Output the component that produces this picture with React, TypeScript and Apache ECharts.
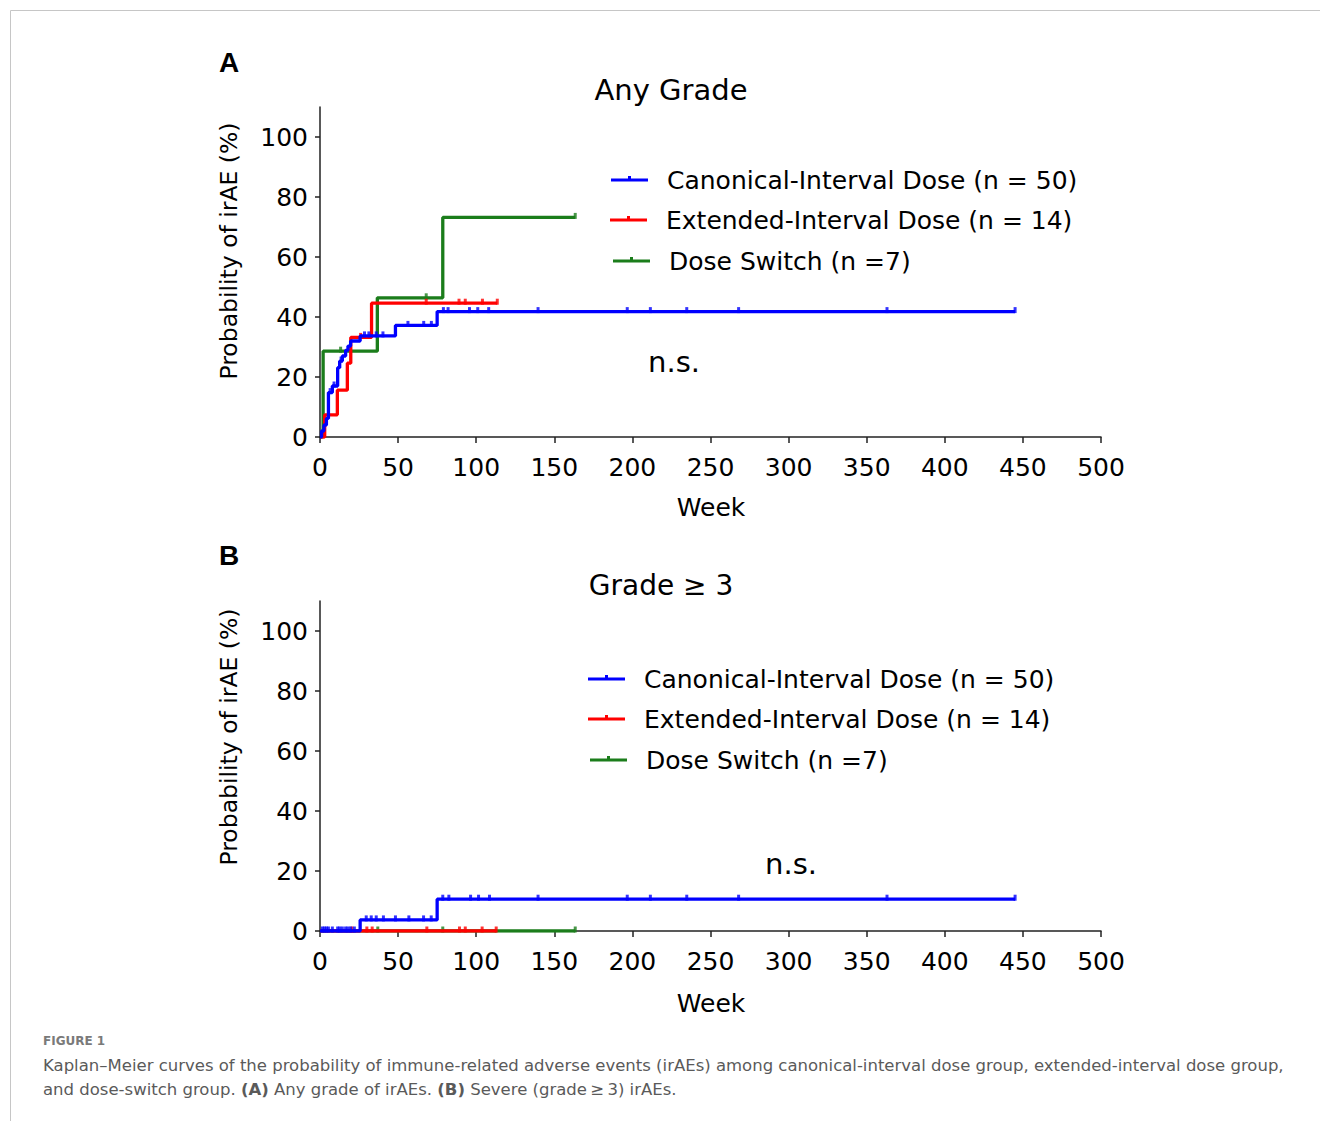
import React, { useEffect, useRef } from "react";
import * as echarts from "echarts";

// ---------- data (weeks, cumulative probability %) ----------
const xTicks = [0, 50, 100, 150, 200, 250, 300, 350, 400, 450, 500];
const yTicks = [0, 20, 40, 60, 80, 100];

// Panel A: any grade
const blueA_t = [0, 1.0, 2.5, 4.1, 5.4, 7.9, 11.3, 12.6, 14.3, 16.4, 17.9, 19.6, 25.7, 48.3, 75, 445];
const blueA_v = [0, 2, 4, 6.2, 14.8, 17, 23.1, 25.3, 27, 28.9, 30.3, 32, 33.7, 37.2, 41.8, 41.8];
const blueA_cens_t = [6.5, 9, 13.5, 28.5, 31.3, 36, 40.3, 56.3, 66.4, 71.3, 79, 82, 95.7, 101, 108, 139.6, 196.7, 211.5, 234.8, 268, 363, 445];
const blueA_cens_v = [14.8, 17, 25.3, 33.7, 33.7, 33.7, 33.7, 37.2, 37.2, 37.2, 41.8, 41.8, 41.8, 41.8, 41.8, 41.8, 41.8, 41.8, 41.8, 41.8, 41.8, 41.8];

const redA_t = [0, 3, 11.1, 17.5, 19.7, 33, 113.5];
const redA_v = [0, 7.4, 15.6, 24.6, 33.2, 44.6, 44.6];
const redA_cens_t = [26, 68, 89, 93, 104, 113.5];
const redA_cens_v = [33.2, 44.6, 44.6, 44.6, 44.6, 44.6];

const greenA_t = [0, 2, 36.7, 78.6, 163.4];
const greenA_v = [0, 28.6, 46.4, 73.2, 73.2];
const greenA_cens_t = [13.2, 68, 163.4];
const greenA_cens_v = [28.6, 46.4, 73.2];

// Panel B: grade >= 3
const blueB_t = [0, 25.7, 75, 445];
const blueB_v = [0, 3.7, 10.6, 10.6];
const blueB_cens_t = [1.5, 2.8, 4.1, 5.4, 7.9, 11.3, 12.6, 14.3, 16.4, 17.9, 19.6, 22, 29.6, 32.8, 36, 40.6, 48.3, 56.9, 66.3, 71.2, 78.6, 82.5, 96.4, 101.5, 108.5, 139.6, 196.7, 211.5, 234.8, 268, 363, 445];
const blueB_cens_v = [0, 0, 0, 0, 0, 0, 0, 0, 0, 0, 0, 0, 3.7, 3.7, 3.7, 3.7, 3.7, 3.7, 3.7, 3.7, 10.6, 10.6, 10.6, 10.6, 10.6, 10.6, 10.6, 10.6, 10.6, 10.6, 10.6, 10.6];

const redB_t = [0, 113];
const redB_v = [0, 0];
const redB_cens_t = [20.4, 30, 33.4, 68.4, 89.3, 93, 103.8, 112.8];
const redB_cens_v = [0, 0, 0, 0, 0, 0, 0, 0];

const greenB_t = [0, 163.4];
const greenB_v = [0, 0];
const greenB_cens_t = [37, 78.6, 163.4];
const greenB_cens_v = [0, 0, 0];

const legendNames = ["Canonical-Interval Dose (n = 50)", "Extended-Interval Dose (n = 14)", "Dose Switch (n =7)"];

const BLUE = "#0000ff";
const RED = "#ff0000";
const GREEN = "#1b7d1b";
const FONT = "DejaVu Sans";

const zip = (t: number[], v: number[]) => t.map((x, i) => [x, v[i]]);

function lineSeries(name: string, t: number[], v: number[], color: string, idx: number, z: number) {
  return {
    type: "line",
    name,
    data: zip(t, v),
    xAxisIndex: idx,
    yAxisIndex: idx,
    step: "end",
    showSymbol: false,
    symbol: "none",
    silent: true,
    z,
    lineStyle: { color, width: 3.3 },
    itemStyle: { color },
  };
}

function censSeries(name: string, t: number[], v: number[], color: string, idx: number, z: number) {
  return {
    type: "scatter",
    name: name + " censored",
    data: zip(t, v),
    xAxisIndex: idx,
    yAxisIndex: idx,
    symbol: "rect",
    symbolSize: [3, 6],
    symbolOffset: [0, -1.5],
    silent: true,
    z,
    itemStyle: { color },
  };
}

function xAxisDef(idx: number) {
  return {
    type: "value",
    gridIndex: idx,
    min: 0,
    max: 500,
    interval: 50,
    axisLine: { show: true, lineStyle: { color: "#222", width: 1.5 } },
    axisTick: { show: true, length: 6, customValues: xTicks, lineStyle: { color: "#222", width: 1.5 } },
    axisLabel: { fontSize: 25, color: "#000", fontFamily: FONT, margin: 18, customValues: xTicks },
    splitLine: { show: false },
  };
}

function yAxisDef(idx: number) {
  return {
    type: "value",
    gridIndex: idx,
    min: 0,
    max: 110,
    interval: 20,
    axisLine: { show: true, lineStyle: { color: "#222", width: 1.5 } },
    axisTick: { show: true, length: 5, customValues: yTicks, lineStyle: { color: "#222", width: 1.5 } },
    axisLabel: { fontSize: 25, color: "#000", fontFamily: FONT, margin: 12, customValues: yTicks },
    splitLine: { show: false },
  };
}

function legendGraphics(x0: number, rows: { y: number; dx: number }[]) {
  const colors = [BLUE, RED, GREEN];
  const out: any[] = [];
  rows.forEach((r, i) => {
    const x = x0 + r.dx;
    out.push({
      type: "line",
      shape: { x1: x, y1: r.y, x2: x + 37, y2: r.y },
      style: { stroke: colors[i], lineWidth: 3 },
      silent: true,
    });
    out.push({
      type: "rect",
      shape: { x: x + 17, y: r.y - 4, width: 3, height: 4 },
      style: { fill: colors[i] },
      silent: true,
    });
    out.push({
      type: "text",
      x: x + 56,
      y: r.y,
      style: { text: legendNames[i], fontSize: 25, fontFamily: FONT, fill: "#000", verticalAlign: "middle" },
      silent: true,
    });
  });
  return out;
}

function txt(text: string, x: number, y: number, size: number, opts: any = {}) {
  return {
    type: "text",
    x,
    y,
    rotation: opts.rotation || 0,
    silent: true,
    style: {
      text,
      fontSize: size,
      fontFamily: opts.font || FONT,
      fontWeight: opts.weight || "normal",
      fill: opts.fill || "#000",
      align: opts.align || "center",
      verticalAlign: "middle",
    },
  };
}

export default function App() {
  const ref = useRef<HTMLDivElement>(null);
  useEffect(() => {
    if (!ref.current) return;
    const chart = echarts.init(ref.current, undefined, { renderer: "svg" });
    const caption1 =
      "Kaplan\u2013Meier curves of the probability of immune-related adverse events (irAEs) among canonical-interval dose group, extended-interval dose group,";
    chart.setOption({
      animation: false,
      backgroundColor: "#fff",
      grid: [
        { left: 320, top: 107, width: 781, height: 330 },
        { left: 320, top: 601, width: 781, height: 330 },
      ],
      xAxis: [xAxisDef(0), xAxisDef(1)],
      yAxis: [yAxisDef(0), yAxisDef(1)],
      series: [
        lineSeries("Dose Switch A", greenA_t, greenA_v, GREEN, 0, 2),
        censSeries("Dose Switch A", greenA_cens_t, greenA_cens_v, GREEN, 0, 3),
        lineSeries("Extended A", redA_t, redA_v, RED, 0, 4),
        censSeries("Extended A", redA_cens_t, redA_cens_v, RED, 0, 5),
        lineSeries("Canonical A", blueA_t, blueA_v, BLUE, 0, 6),
        censSeries("Canonical A", blueA_cens_t, blueA_cens_v, BLUE, 0, 7),
        lineSeries("Dose Switch B", greenB_t, greenB_v, GREEN, 1, 2),
        censSeries("Dose Switch B", greenB_cens_t, greenB_cens_v, GREEN, 1, 3),
        lineSeries("Extended B", redB_t, redB_v, RED, 1, 4),
        censSeries("Extended B", redB_cens_t, redB_cens_v, RED, 1, 5),
        lineSeries("Canonical B", blueB_t, blueB_v, BLUE, 1, 6),
        censSeries("Canonical B", blueB_cens_t, blueB_cens_v, BLUE, 1, 7),
      ],
      graphic: [
        {
          type: "rect",
          shape: { x: 10.5, y: 10.5, width: 1320, height: 1120 },
          style: { fill: "none", stroke: "#c6c6c6", lineWidth: 1 },
          silent: true,
        },
        txt("A", 229, 62, 28, { weight: "bold", font: "Liberation Sans" }),
        txt("B", 229, 555, 28, { weight: "bold", font: "Liberation Sans" }),
        txt("Any Grade", 671, 90, 29),
        txt("Grade \u2265 3", 661, 585, 28),
        txt("Probability of irAE (%)", 229, 251, 23.5, { rotation: Math.PI / 2 }),
        txt("Probability of irAE (%)", 229, 737, 23.5, { rotation: Math.PI / 2 }),
        txt("Week", 711, 507, 25),
        txt("Week", 711, 1003, 25),
        txt("n.s.", 674, 362, 29),
        txt("n.s.", 791, 864, 29),
        ...legendGraphics(611, [
          { y: 180, dx: 0 },
          { y: 220, dx: -1 },
          { y: 261, dx: 2 },
        ]),
        ...legendGraphics(588, [
          { y: 679, dx: 0 },
          { y: 719, dx: 0 },
          { y: 760, dx: 2 },
        ]),
        txt("FIGURE 1", 43, 1041, 12, { align: "left", weight: "bold", font: "DejaVu Sans", fill: "#7a7a7a" }),
        txt(caption1, 43, 1065, 16.5, { align: "left", font: "DejaVu Sans", fill: "#5a5a5a" }),
        {
          type: "text",
          x: 43,
          y: 1089,
          silent: true,
          style: {
            text: "and dose-switch group. {b|(A)} Any grade of irAEs. {b|(B)} Severe (grade\u2009\u2265\u20093) irAEs.",
            fontSize: 16.5,
            fontFamily: "DejaVu Sans",
            fill: "#5a5a5a",
            align: "left",
            verticalAlign: "middle",
            rich: { b: { fontWeight: "bold", fontSize: 16.5, fontFamily: "DejaVu Sans", fill: "#5a5a5a" } },
          },
        },
      ],
    });
    return () => chart.dispose();
  }, []);
  return <div ref={ref} style={{ position: "absolute", left: 0, top: 0, width: 1320, height: 1121 }} />;
}
